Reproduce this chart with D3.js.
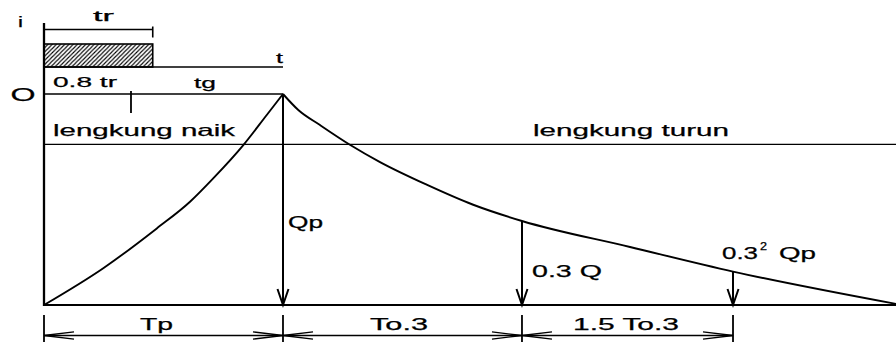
<!DOCTYPE html>
<html>
<head>
<meta charset="utf-8">
<script src="https://cdn.jsdelivr.net/npm/d3@7"></script>
<style>
  html, body { margin: 0; padding: 0; background: #fff; }
  svg { display: block; }
  text { font-family: "Liberation Sans", Arial, sans-serif; fill: #000; stroke: #000; stroke-width: 0.25px; }
</style>
</head>
<body>
<svg id="chart" width="896" height="342"></svg>
<script>
// Nakayasu synthetic unit hydrograph.
// Time is expressed in units of Tp, discharge as a fraction of Qp.
const risingTime  = [0, 0.248, 0.472, 0.611, 0.708, 0.834, 0.932, 1];
const risingQ     = [0, 0.102, 0.266, 0.393, 0.513, 0.696, 0.872, 1];
const fallingTime = [1, 1.064, 1.155, 1.28, 1.406, 1.601, 1.796, 2.0, 2.452, 2.883, 3.565];
const fallingQ    = [1, 0.902, 0.812, 0.698, 0.601, 0.48, 0.378, 0.3, 0.185, 0.09, 0.001];
const markerTimes = [1, 2.0, 2.883];          // Tp, Tp + To.3, Tp + To.3 + 1.5 To.3
const markerQ     = [1, 0.3, 0.09];           // Qp, 0.3 Qp, 0.3^2 Qp
const segmentLabels = ["Tp", "To.3", "1.5 To.3"];
const rainDuration  = 0.455;                  // tr
const lagFraction   = 0.8;                    // 0.8 tr
const rainIntensity = 1;
const dividerQ      = 0.7;                    // row separating the limb captions
const timeEnd       = 3.565;

const svg = d3.select("#chart");

const x = d3.scaleLinear().domain([0, timeEnd]).range([44, 896]);
const y = d3.scalePow().exponent(0.765).domain([0, 1]).range([305, 94]);
const yRain = d3.scaleLinear().domain([0, 1]).range([67, 44]);

const ink = "#000";

function line(x1, y1, x2, y2, w) {
  svg.append("line")
    .attr("x1", x1).attr("y1", y1).attr("x2", x2).attr("y2", y2)
    .attr("stroke", ink).attr("stroke-width", w);
}

function label(txt, lx, ly, fs, w) {
  svg.append("text")
    .attr("x", lx).attr("y", ly)
    .style("font-size", fs + "px")
    .attr("textLength", w)
    .attr("lengthAdjust", "spacingAndGlyphs")
    .text(txt);
}

// hatching for the effective rainfall block
const defs = svg.append("defs");
const pat = defs.append("pattern")
  .attr("id", "hatch")
  .attr("patternUnits", "userSpaceOnUse")
  .attr("width", 4.2).attr("height", 4.2);
pat.append("path")
  .attr("d", "M-1,1 l2,-2 M0,4.2 l4.2,-4.2 M3.2,5.2 l2,-2")
  .attr("stroke", ink).attr("stroke-width", 1.1);

// rainfall block
svg.append("rect")
  .attr("x", x(0)).attr("y", yRain(rainIntensity))
  .attr("width", x(rainDuration) - x(0))
  .attr("height", yRain(0) - yRain(rainIntensity))
  .attr("fill", "url(#hatch)")
  .attr("stroke", ink).attr("stroke-width", 1.6);

// tr dimension
line(x(0), 29.5, x(rainDuration), 29.5, 1.4);
line(x(rainDuration), 26.5, x(rainDuration), 37.5, 1.6);

// rainfall time axis
line(x(0), yRain(0), x(1), yRain(0), 1.5);

// peak level line with 0.8 tr mark
line(x(0), y(1), x(1), y(1), 1.5);
line(x(lagFraction * rainDuration), y(1) - 3, x(lagFraction * rainDuration), y(1) + 19, 1.8);

// divider between the limb captions
line(x(0), y(dividerQ), x(timeEnd), y(dividerQ), 1.3);

// base line (t axis of the hydrograph)
line(x(0), y(0), x(timeEnd), y(0), 2);

// vertical axis
line(x(0), 23, x(0), y(0) + 1, 2.3);

// rising and falling limbs
const curve = d3.line().x(d => x(d[0])).y(d => y(d[1])).curve(d3.curveMonotoneX);
svg.append("path")
  .datum(risingTime.map((t, i) => [t, risingQ[i]]))
  .attr("d", curve)
  .attr("fill", "none").attr("stroke", ink).attr("stroke-width", 1.9);
svg.append("path")
  .datum(fallingTime.map((t, i) => [t, fallingQ[i]]))
  .attr("d", curve)
  .attr("fill", "none").attr("stroke", ink).attr("stroke-width", 1.9);

// ordinate arrows at Qp, 0.3 Qp, 0.3^2 Qp
markerTimes.forEach((t, i) => {
  const mx = x(t);
  line(mx, y(markerQ[i]), mx, y(0), 2);
  svg.append("path")
    .attr("d", `M${mx - 5.5},${y(0) - 16} L${mx},${y(0)} L${mx + 5.5},${y(0) - 16}`)
    .attr("fill", "none").attr("stroke", ink).attr("stroke-width", 2);
});

// time dimensions along the bottom
const dimY = 335.5;
const bounds = [0].concat(markerTimes);
bounds.forEach(t => line(x(t), 315, x(t), 342, 1.8));
line(x(0), dimY, x(markerTimes[markerTimes.length - 1]), dimY, 1.4);
function chevron(px, dir) {
  const len = 30, hw = 3.6;
  svg.append("path")
    .attr("d", `M${px + dir * len},${dimY - hw} L${px},${dimY} L${px + dir * len},${dimY + hw}`)
    .attr("fill", "none").attr("stroke", ink).attr("stroke-width", 1.3);
}
for (let i = 0; i < bounds.length - 1; i++) {
  chevron(x(bounds[i]), 1);
  chevron(x(bounds[i + 1]), -1);
}

// captions
label("i", 18, 26.5, 14, 5);
label("tr", 93, 21, 14, 21);
label("t", 276, 63, 15, 7);
label("0.8 tr", 53, 87, 15, 64);
label("tg", 194, 87.5, 15, 22);
label("O", 10.5, 100.5, 19, 25);
label("lengkung naik", 53, 136, 16.5, 182);
label("lengkung turun", 533, 136, 16.5, 196);
label("Qp", x(markerTimes[0]) + 5, 228, 16, 35);
label("0.3 Q", x(markerTimes[1]) + 10, 277, 16.5, 70);
label("0.3", 722, 259, 16.5, 36);
label("2", 760, 250, 10, 7);
label("Qp", 779, 259, 16.5, 37);

const segStarts = [140, 370, 573];
const segWidths = [33, 58, 106];
segmentLabels.forEach((s, i) => label(s, segStarts[i], 330, 16, segWidths[i]));
</script>
</body>
</html>
